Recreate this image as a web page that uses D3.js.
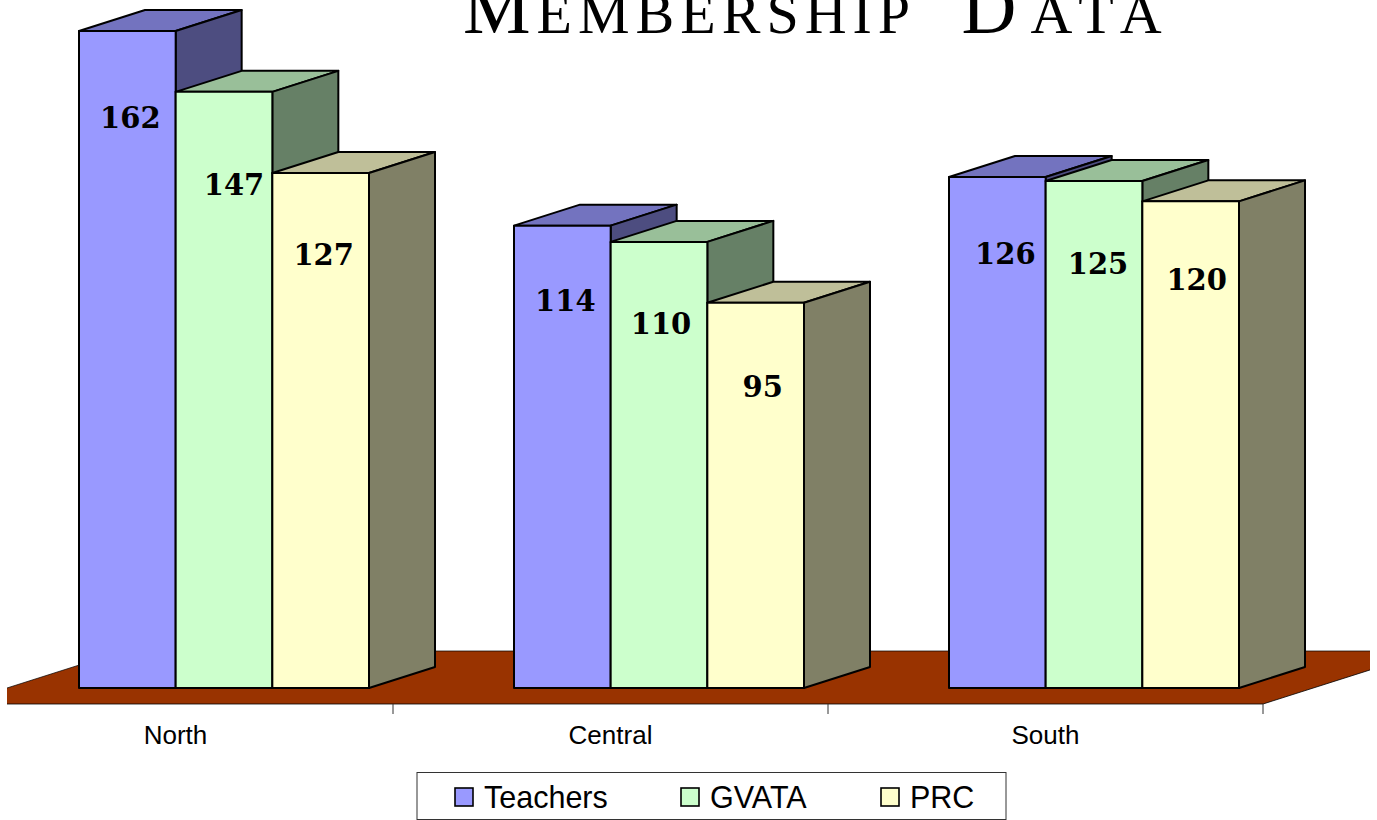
<!DOCTYPE html>
<html>
<head>
<meta charset="utf-8">
<title>Membership Data</title>
<script src="https://cdn.jsdelivr.net/npm/d3@7"></script>
<style>
    html, body { margin: 0; padding: 0; background: #fff; overflow: hidden; }
    svg { display: block; }
</style>
</head>
<body>
<svg id="chart" width="1377" height="820"></svg>
<script>
// 値は画像から読み取り
const regions = ["North", "Central", "South"];
const seriesNames = ["Teachers", "GVATA", "PRC"];
const teachers = [162, 114, 126];
const gvata = [147, 110, 125];
const prc = [127, 95, 120];

const frontColors = ["#9999ff", "#ccffcc", "#ffffcc"];
const topColors = ["#7373bf", "#99bf99", "#bfbf99"];
const sideColors = ["#4d4d80", "#668066", "#808066"];

// ラベルは手で置かれていたので少しずらす [dx, dy]
const labelNudge = [
    [[3, 87], [10, 93], [3, 82]],
    [[3, 75], [2, 82], [7, 84]],
    [[8, 77], [4, 83], [6, 78]],
];

const svg = d3.select("#chart");

const depthX = 66;
const depthY = 21;
const floorBack = 37;
const floorThick = 16;
const floorLeft = 7;
const floorClip = 1370;

const x0 = d3.scaleBand().domain(regions).range([-42, 1263]);
const x1 = d3.scaleBand().domain(seriesNames).range([121, 411]);
const y = d3.scaleLinear().domain([0, 162]).range([688, 31]);

const values = [teachers, gvata, prc];

svg.append("clipPath")
    .attr("id", "plotClip")
    .append("rect")
    .attr("x", floorLeft)
    .attr("y", 0)
    .attr("width", floorClip - floorLeft)
    .attr("height", 820);

// 床
const base = y(0);
const floorRight = x0.range()[1];
const floorDx = floorBack * depthX / depthY;
const floorG = svg.append("g").attr("clip-path", "url(#plotClip)");

floorG.append("path")
    .attr("d", d3.line()([
        [floorLeft, base],
        [floorLeft + floorDx, base - floorBack],
        [floorRight + floorDx, base - floorBack],
        [floorRight + floorDx, base - floorBack + floorThick],
        [floorRight, base + floorThick],
        [floorLeft, base + floorThick],
    ]) + "Z")
    .attr("fill", "#993300");

floorG.append("path")
    .attr("d", d3.line()([
        [floorLeft, base],
        [floorLeft + floorDx, base - floorBack],
        [floorRight + floorDx, base - floorBack],
    ]))
    .attr("fill", "none")
    .attr("stroke", "#000")
    .attr("stroke-width", 0.7);

floorG.append("path")
    .attr("d", d3.line()([
        [floorLeft, base + floorThick],
        [floorRight, base + floorThick],
        [floorRight + floorDx, base - floorBack + floorThick],
    ]))
    .attr("fill", "none")
    .attr("stroke", "#000")
    .attr("stroke-width", 0.8);

// 棒
const bars = svg.append("g")
    .attr("stroke", "#000")
    .attr("stroke-width", 2)
    .attr("stroke-linejoin", "round");

regions.forEach((region, r) => {
    seriesNames.forEach((name, s) => {
        const left = x0(region) + x1(name);
        const right = left + x1.bandwidth();
        const top = y(values[s][r]);
        const g = bars.append("g");

        g.append("path")
            .attr("d", d3.line()([
                [left, top],
                [left + depthX, top - depthY],
                [right + depthX, top - depthY],
                [right, top],
            ]) + "Z")
            .attr("fill", topColors[s]);

        g.append("path")
            .attr("d", d3.line()([
                [right, top],
                [right + depthX, top - depthY],
                [right + depthX, base - depthY],
                [right, base],
            ]) + "Z")
            .attr("fill", sideColors[s]);

        g.append("rect")
            .attr("x", left)
            .attr("y", top)
            .attr("width", x1.bandwidth())
            .attr("height", base - top)
            .attr("fill", frontColors[s]);
    });
});

// 数値ラベル
regions.forEach((region, r) => {
    seriesNames.forEach((name, s) => {
        svg.append("text")
            .attr("x", x0(region) + x1(name) + x1.bandwidth() / 2 + labelNudge[r][s][0])
            .attr("y", y(values[s][r]) + labelNudge[r][s][1])
            .attr("dy", "0.36em")
            .attr("text-anchor", "middle")
            .attr("font-family", "'DejaVu Serif', serif")
            .attr("font-weight", "bold")
            .attr("font-size", 29)
            .attr("fill", "#000")
            .text(values[s][r]);
    });
});

// x 軸
const xAxis = svg.append("g")
    .attr("transform", `translate(0, ${base + floorThick})`)
    .call(d3.axisBottom(x0).tickSize(0).tickPadding(22));

xAxis.select(".domain").remove();
xAxis.selectAll("text")
    .attr("font-family", "'Liberation Sans', Arial, sans-serif")
    .attr("font-size", 26)
    .attr("fill", "#000");

xAxis.selectAll(".sep")
    .data(regions)
    .enter()
    .append("line")
    .attr("class", "sep")
    .attr("x1", (d) => x0(d) + x0.bandwidth())
    .attr("x2", (d) => x0(d) + x0.bandwidth())
    .attr("y1", 0)
    .attr("y2", 10)
    .attr("stroke", "#333")
    .attr("stroke-width", 1);

// タイトル (上端は元画像でも切れている)
const title = svg.append("text")
    .attr("x", 463)
    .attr("y", 33)
    .attr("font-family", "'Liberation Serif', serif")
    .attr("fill", "#000")
    .attr("letter-spacing", 6)
    .style("white-space", "pre")
    .style("font-kerning", "none");

[["M", 76, 0], ["EMBERSHIP", 58, 0], [" ", 58, 0], ["D", 76, 25], ["ATA", 58, 8]].forEach((part) => {
    title.append("tspan")
        .attr("font-size", part[1])
        .attr("dx", part[2])
        .text(part[0]);
});

// 凡例
const legendX = [455, 681, 881];
const legend = svg.append("g");

legend.append("rect")
    .attr("x", 417)
    .attr("y", 772.5)
    .attr("width", 589)
    .attr("height", 47)
    .attr("fill", "#fff")
    .attr("stroke", "#333")
    .attr("stroke-width", 1);

seriesNames.forEach((name, s) => {
    legend.append("rect")
        .attr("x", legendX[s])
        .attr("y", 788)
        .attr("width", 18)
        .attr("height", 18)
        .attr("fill", frontColors[s])
        .attr("stroke", "#000")
        .attr("stroke-width", 1.6);

    legend.append("text")
        .attr("x", legendX[s] + 29)
        .attr("y", 808)
        .attr("font-family", "'Liberation Sans', Arial, sans-serif")
        .attr("font-size", 30.5)
        .attr("fill", "#000")
        .text(name);
});
</script>
</body>
</html>
